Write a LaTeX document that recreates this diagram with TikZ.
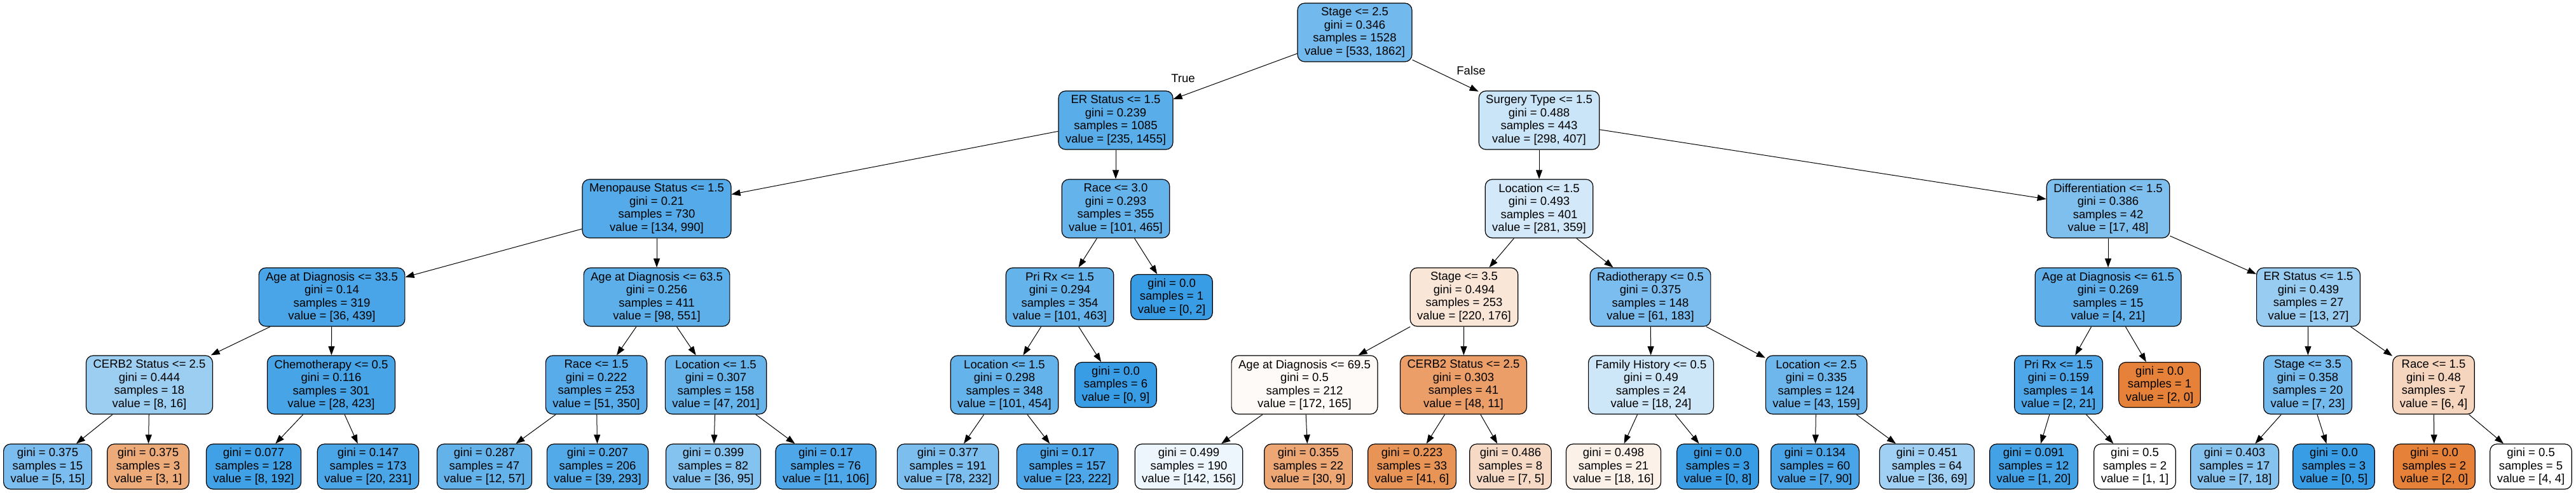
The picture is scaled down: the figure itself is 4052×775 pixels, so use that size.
\documentclass[tikz,border=0pt]{standalone}
\usepackage{fontspec}
\setmainfont{Liberation Sans}
\usetikzlibrary{arrows.meta}
\definecolor{cb}{RGB}{57,157,229}
\definecolor{co}{RGB}{229,129,57}
\begin{document}
\begin{tikzpicture}[x=1pt,y=-1pt,
  box/.style={draw=black, line width=1.2pt, rounded corners=11pt, align=center,
    inner xsep=11pt, inner ysep=0pt, minimum height=92pt,
    font=\fontsize{18.5}{20.5}\selectfont},
  leaf/.style={box, minimum height=71pt},
  edge/.style={-{Triangle[length=14pt,width=10pt]}, line width=1pt},
  lbl/.style={font=\fontsize{18.5}{20.5}\selectfont, inner sep=0pt}]
\fill[white] (0,0) rectangle (4052,775);
\useasboundingbox (0,0) rectangle (4052,775);
% level 0
\node[box, fill=cb!71] (n0) at (2131,51) {Stage <= 2.5\\gini = 0.346\\samples = 1528\\value = [533, 1862]};
% level 1
\node[box, fill=cb!84] (n1) at (1755,189) {ER Status <= 1.5\\gini = 0.239\\samples = 1085\\value = [235, 1455]};
\node[box, fill=cb!27] (n2) at (2421,189) {Surgery Type <= 1.5\\gini = 0.488\\samples = 443\\value = [298, 407]};
% level 2
\node[box, fill=cb!86] (n3) at (1033,328) {Menopause Status <= 1.5\\gini = 0.21\\samples = 730\\value = [134, 990]};
\node[box, fill=cb!78] (n4) at (1755,328) {Race <= 3.0\\gini = 0.293\\samples = 355\\value = [101, 465]};
\node[box, fill=cb!22] (n5) at (2421,328) {Location <= 1.5\\gini = 0.493\\samples = 401\\value = [281, 359]};
\node[box, fill=cb!65] (n6) at (3316,328) {Differentiation <= 1.5\\gini = 0.386\\samples = 42\\value = [17, 48]};
% level 3
\node[box, fill=cb!92] (n7) at (522,467) {Age at Diagnosis <= 33.5\\gini = 0.14\\samples = 319\\value = [36, 439]};
\node[box, fill=cb!82] (n8) at (1033,467) {Age at Diagnosis <= 63.5\\gini = 0.256\\samples = 411\\value = [98, 551]};
\node[box, fill=cb!78] (n9) at (1667,467) {Pri Rx <= 1.5\\gini = 0.294\\samples = 354\\value = [101, 463]};
\node[leaf, fill=cb] (n10) at (1843,467) {gini = 0.0\\samples = 1\\value = [0, 2]};
\node[box, fill=co!20] (n11) at (2303,467) {Stage <= 3.5\\gini = 0.494\\samples = 253\\value = [220, 176]};
\node[box, fill=cb!67] (n12) at (2596,467) {Radiotherapy <= 0.5\\gini = 0.375\\samples = 148\\value = [61, 183]};
\node[box, fill=cb!81] (n13) at (3316,467) {Age at Diagnosis <= 61.5\\gini = 0.269\\samples = 15\\value = [4, 21]};
\node[box, fill=cb!52] (n14) at (3631,467) {ER Status <= 1.5\\gini = 0.439\\samples = 27\\value = [13, 27]};
% level 4
\node[box, fill=cb!50] (n15) at (235,605) {CERB2 Status <= 2.5\\gini = 0.444\\samples = 18\\value = [8, 16]};
\node[box, fill=cb!93] (n16) at (521,605) {Chemotherapy <= 0.5\\gini = 0.116\\samples = 301\\value = [28, 423]};
\node[box, fill=cb!85] (n17) at (938,605) {Race <= 1.5\\gini = 0.222\\samples = 253\\value = [51, 350]};
\node[box, fill=cb!77] (n18) at (1126,605) {Location <= 1.5\\gini = 0.307\\samples = 158\\value = [47, 201]};
\node[box, fill=cb!78] (n19) at (1580,605) {Location <= 1.5\\gini = 0.298\\samples = 348\\value = [101, 454]};
\node[leaf, fill=cb] (n20) at (1755,605) {gini = 0.0\\samples = 6\\value = [0, 9]};
\node[box, fill=co!4] (n21) at (2052,605) {Age at Diagnosis <= 69.5\\gini = 0.5\\samples = 212\\value = [172, 165]};
\node[box, fill=co!77] (n22) at (2302,605) {CERB2 Status <= 2.5\\gini = 0.303\\samples = 41\\value = [48, 11]};
\node[box, fill=cb!25] (n23) at (2597,605) {Family History <= 0.5\\gini = 0.49\\samples = 24\\value = [18, 24]};
\node[box, fill=cb!73] (n24) at (2857,605) {Location <= 2.5\\gini = 0.335\\samples = 124\\value = [43, 159]};
\node[box, fill=cb!90] (n25) at (3238,605) {Pri Rx <= 1.5\\gini = 0.159\\samples = 14\\value = [2, 21]};
\node[leaf, fill=co] (n26) at (3397,605) {gini = 0.0\\samples = 1\\value = [2, 0]};
\node[box, fill=cb!70] (n27) at (3630,605) {Stage <= 3.5\\gini = 0.358\\samples = 20\\value = [7, 23]};
\node[box, fill=co!33] (n28) at (3828,605) {Race <= 1.5\\gini = 0.48\\samples = 7\\value = [6, 4]};
% level 5
\node[leaf, fill=cb!67] (n29) at (75,733.5) {gini = 0.375\\samples = 15\\value = [5, 15]};
\node[leaf, fill=co!67] (n30) at (233,733.5) {gini = 0.375\\samples = 3\\value = [3, 1]};
\node[leaf, fill=cb!96] (n31) at (399,733.5) {gini = 0.077\\samples = 128\\value = [8, 192]};
\node[leaf, fill=cb!91] (n32) at (579,733.5) {gini = 0.147\\samples = 173\\value = [20, 231]};
\node[leaf, fill=cb!79] (n33) at (762,733.5) {gini = 0.287\\samples = 47\\value = [12, 57]};
\node[leaf, fill=cb!87] (n34) at (940,733.5) {gini = 0.207\\samples = 206\\value = [39, 293]};
\node[leaf, fill=cb!62] (n35) at (1122,733.5) {gini = 0.399\\samples = 82\\value = [36, 95]};
\node[leaf, fill=cb!90] (n36) at (1299,733.5) {gini = 0.17\\samples = 76\\value = [11, 106]};
\node[leaf, fill=cb!66] (n37) at (1491,733.5) {gini = 0.377\\samples = 191\\value = [78, 232]};
\node[leaf, fill=cb!90] (n38) at (1679,733.5) {gini = 0.17\\samples = 157\\value = [23, 222]};
\node[leaf, fill=cb!9] (n39) at (1870,733.5) {gini = 0.499\\samples = 190\\value = [142, 156]};
\node[leaf, fill=co!70] (n40) at (2058,733.5) {gini = 0.355\\samples = 22\\value = [30, 9]};
\node[leaf, fill=co!85] (n41) at (2221,733.5) {gini = 0.223\\samples = 33\\value = [41, 6]};
\node[leaf, fill=co!29] (n42) at (2376,733.5) {gini = 0.486\\samples = 8\\value = [7, 5]};
\node[leaf, fill=co!11] (n43) at (2538,733.5) {gini = 0.498\\samples = 21\\value = [18, 16]};
\node[leaf, fill=cb] (n44) at (2702,733.5) {gini = 0.0\\samples = 3\\value = [0, 8]};
\node[leaf, fill=cb!92] (n45) at (2855,733.5) {gini = 0.134\\samples = 60\\value = [7, 90]};
\node[leaf, fill=cb!48] (n46) at (3031,733.5) {gini = 0.451\\samples = 64\\value = [36, 69]};
\node[leaf, fill=cb!95] (n47) at (3199,733.5) {gini = 0.091\\samples = 12\\value = [1, 20]};
\node[leaf, fill=white] (n48) at (3358,733.5) {gini = 0.5\\samples = 2\\value = [1, 1]};
\node[leaf, fill=cb!61] (n49) at (3515,733.5) {gini = 0.403\\samples = 17\\value = [7, 18]};
\node[leaf, fill=cb] (n50) at (3671,733.5) {gini = 0.0\\samples = 3\\value = [0, 5]};
\node[leaf, fill=co] (n51) at (3829,733.5) {gini = 0.0\\samples = 2\\value = [2, 0]};
\node[leaf, fill=white] (n52) at (3981,733.5) {gini = 0.5\\samples = 5\\value = [4, 4]};
% edges
\draw[edge] (n0) -- (n1);
\draw[edge] (n0) -- (n2);
\node[lbl] (lt) at (1861,123) {True};
\node[lbl] (lf) at (2314,111) {False};
\draw[edge] (n1) -- (n3);
\draw[edge] (n1) -- (n4);
\draw[edge] (n2) -- (n5);
\draw[edge] (n2) -- (n6);
\draw[edge] (n3) -- (n7);
\draw[edge] (n3) -- (n8);
\draw[edge] (n4) -- (n9);
\draw[edge] (n4) -- (n10);
\draw[edge] (n5) -- (n11);
\draw[edge] (n5) -- (n12);
\draw[edge] (n6) -- (n13);
\draw[edge] (n6) -- (n14);
\draw[edge] (n7) -- (n15);
\draw[edge] (n7) -- (n16);
\draw[edge] (n8) -- (n17);
\draw[edge] (n8) -- (n18);
\draw[edge] (n9) -- (n19);
\draw[edge] (n9) -- (n20);
\draw[edge] (n11) -- (n21);
\draw[edge] (n11) -- (n22);
\draw[edge] (n12) -- (n23);
\draw[edge] (n12) -- (n24);
\draw[edge] (n13) -- (n25);
\draw[edge] (n13) -- (n26);
\draw[edge] (n14) -- (n27);
\draw[edge] (n14) -- (n28);
\draw[edge] (n15) -- (n29);
\draw[edge] (n15) -- (n30);
\draw[edge] (n16) -- (n31);
\draw[edge] (n16) -- (n32);
\draw[edge] (n17) -- (n33);
\draw[edge] (n17) -- (n34);
\draw[edge] (n18) -- (n35);
\draw[edge] (n18) -- (n36);
\draw[edge] (n19) -- (n37);
\draw[edge] (n19) -- (n38);
\draw[edge] (n21) -- (n39);
\draw[edge] (n21) -- (n40);
\draw[edge] (n22) -- (n41);
\draw[edge] (n22) -- (n42);
\draw[edge] (n23) -- (n43);
\draw[edge] (n23) -- (n44);
\draw[edge] (n24) -- (n45);
\draw[edge] (n24) -- (n46);
\draw[edge] (n25) -- (n47);
\draw[edge] (n25) -- (n48);
\draw[edge] (n27) -- (n49);
\draw[edge] (n27) -- (n50);
\draw[edge] (n28) -- (n51);
\draw[edge] (n28) -- (n52);
\end{tikzpicture}
\end{document}
